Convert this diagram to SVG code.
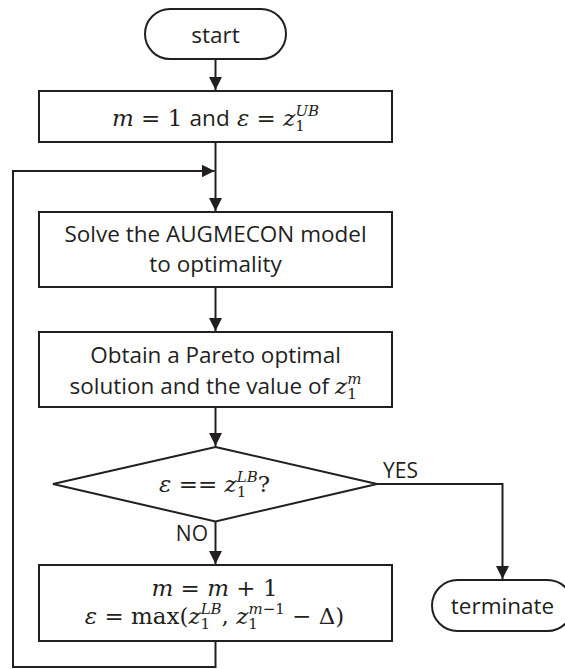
<svg xmlns="http://www.w3.org/2000/svg" width="565" height="669" viewBox="0 0 565 669">
<style>
.shape{fill:#fff;stroke:#231f20;stroke-width:2}
.edge{fill:none;stroke:#231f20;stroke-width:2}
.t{font-family:"Open Sans","Liberation Sans",sans-serif;font-size:22.5px;fill:#231f20}
.lbl{font-family:"Open Sans","Liberation Sans",sans-serif;font-size:21px;fill:#231f20}
.m{font-family:"DejaVu Serif","Liberation Serif",serif;font-size:23px;fill:#231f20}
.i{font-style:italic}
.s{font-family:"Open Sans","Liberation Sans",sans-serif;font-size:22.5px;font-style:normal}
.sm{font-size:15px}
</style>
<defs>
<marker id="arr" markerUnits="userSpaceOnUse" markerWidth="13" markerHeight="13" refX="13" refY="6.5" orient="auto">
<path d="M0,0 L13,6.5 L0,13 Z" fill="#231f20"/>
</marker>
</defs>
<g id="connectors">
<path class="edge" d="M215.5,59 V90" marker-end="url(#arr)"/>
<path class="edge" d="M215.5,142 V211" marker-end="url(#arr)"/>
<path class="edge" d="M215.5,641 V667 H13 V171 H214.5" marker-end="url(#arr)"/>
<path class="edge" d="M215.5,287 V331" marker-end="url(#arr)"/>
<path class="edge" d="M215.5,407 V446" marker-end="url(#arr)"/>
<path class="edge" d="M377,484 H502.5 V579" marker-end="url(#arr)"/>
<path class="edge" d="M215.5,521.5 V564" marker-end="url(#arr)"/>
<text class="lbl" x="383" y="478">YES</text>
<text class="lbl" x="208" y="541" text-anchor="end">NO</text>
</g>
<g id="start">
<rect class="shape" x="145" y="9" width="141" height="50" rx="25"/>
<text class="t" x="215.5" y="43" text-anchor="middle">start</text>
</g>
<g id="init">
<rect class="shape" x="39" y="91" width="353" height="51"/>
<text class="m" x="215.5" y="126" text-anchor="middle"><tspan class="i">m</tspan> = 1 <tspan class="s">and</tspan> <tspan class="i">ε</tspan> = <tspan class="i">z</tspan><tspan class="sm" dy="5">1</tspan><tspan class="sm i" dx="-9.5" dy="-15">UB</tspan></text>
</g>
<g id="solve">
<rect class="shape" x="39" y="212" width="353" height="75"/>
<text class="t" x="215.5" y="242" text-anchor="middle">Solve the AUGMECON model</text>
<text class="t" x="215.5" y="272" text-anchor="middle">to optimality</text>
</g>
<g id="obtain">
<rect class="shape" x="39" y="332" width="353" height="75"/>
<text class="t" x="215.5" y="363" text-anchor="middle">Obtain a Pareto optimal</text>
<text class="t" x="215.5" y="394" text-anchor="middle">solution and the value of <tspan class="m i">z</tspan><tspan class="m sm" dy="5">1</tspan><tspan class="m sm i" dx="-9.5" dy="-15">m</tspan></text>
</g>
<g id="check">
<polygon class="shape" points="215.5,447 377,484 215.5,521.5 53,484"/>
<text class="m" x="214.5" y="492" text-anchor="middle"><tspan class="i">ε</tspan> == <tspan class="i">z</tspan><tspan class="sm" dy="5">1</tspan><tspan class="sm i" dx="-9.5" dy="-15">LB</tspan><tspan dy="10">?</tspan></text>
</g>
<g id="update">
<rect class="shape" x="39" y="565" width="353" height="76"/>
<text class="m" x="214.5" y="596" text-anchor="middle"><tspan class="i">m</tspan> = <tspan class="i">m</tspan> + 1</text>
<text class="m" x="214.5" y="624" text-anchor="middle"><tspan class="i">ε</tspan> = max(<tspan class="i">z</tspan><tspan class="sm" dy="5">1</tspan><tspan class="sm i" dx="-9.5" dy="-15">LB</tspan><tspan dy="10">, </tspan><tspan class="i">z</tspan><tspan class="sm" dy="5">1</tspan><tspan class="sm" dx="-9.5" dy="-15"><tspan class="i">m</tspan>−1</tspan><tspan dy="10"> − Δ)</tspan></text>
</g>
<g id="terminate">
<rect class="shape" x="432" y="580" width="141" height="51" rx="25.5"/>
<text class="t" x="502.5" y="614" text-anchor="middle">terminate</text>
</g>
</svg>
